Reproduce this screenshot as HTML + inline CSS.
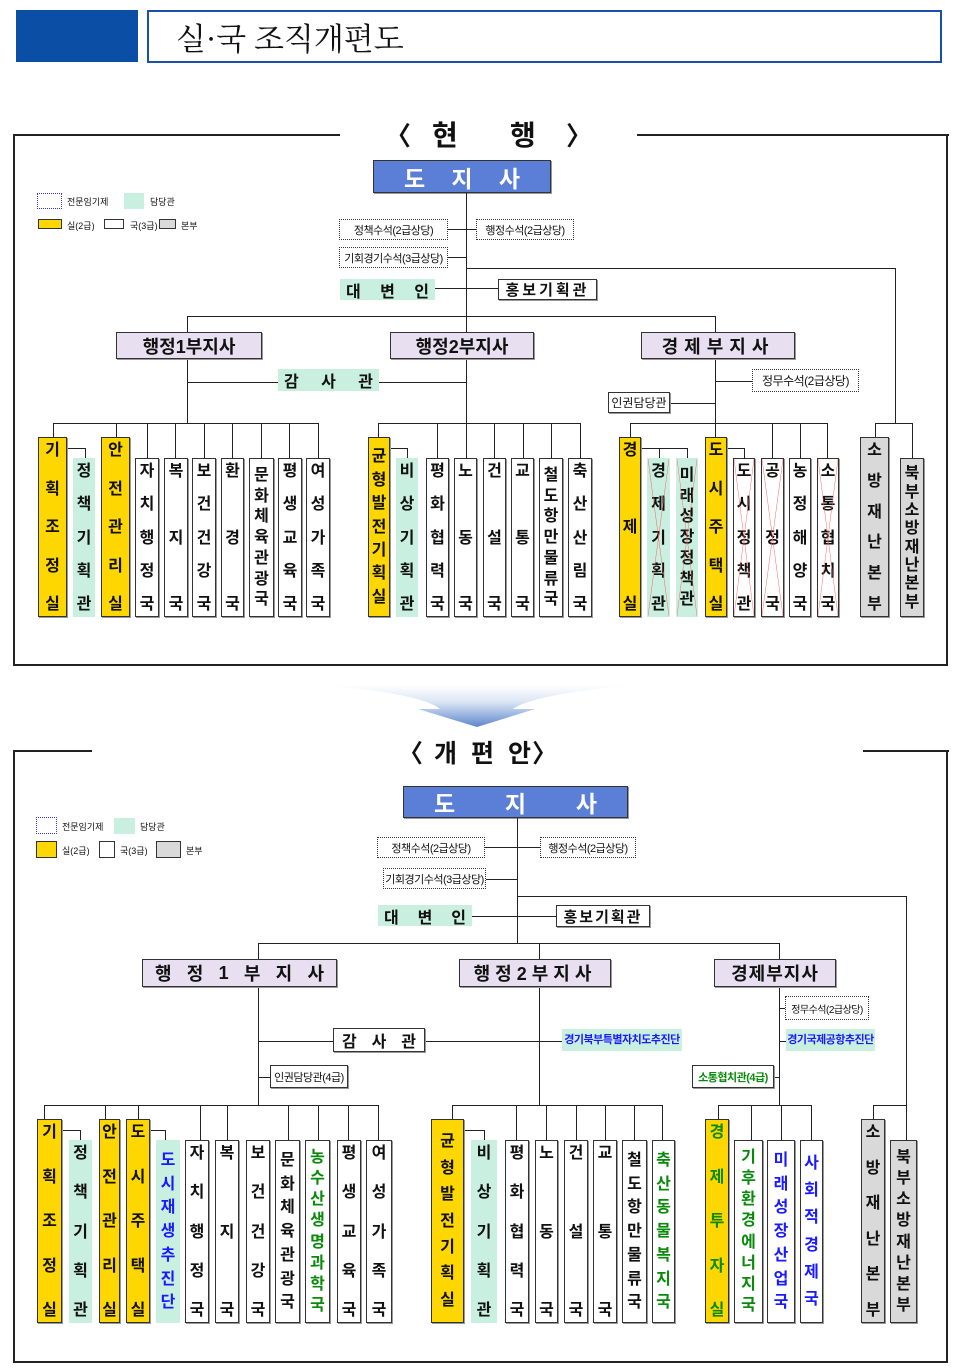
<!DOCTYPE html>
<html><head><meta charset="utf-8"><style>
*{margin:0;padding:0;box-sizing:border-box}
body{width:960px;height:1372px;background:#fff;position:relative;overflow:hidden;font-family:"Liberation Sans","Noto Sans CJK KR",sans-serif;color:#111}
div{position:absolute}
.h{height:1px;background:#222}
.vl{width:1px;background:#222}
.bx{border:1px solid #333;box-shadow:1px 1px 0 #999;display:flex;align-items:center;justify-content:center;font-weight:bold;white-space:nowrap}
.dot{border:1.5px dotted #333;display:flex;align-items:center;justify-content:center;font-size:11px;letter-spacing:-0.5px;white-space:nowrap;overflow:hidden}
.sp{display:flex;justify-content:space-between;align-items:center;white-space:nowrap;font-weight:bold}
.sp span{display:block}
.mint{background:#c9efe0}
.yel{background:#ffd700}
.gry{background:#d9d9d9}
.pur{background:#e8dff0}
.v{border:1px solid #333;box-shadow:1px 1px 0 #999;display:flex;flex-direction:column;justify-content:space-between;align-items:center;padding:4px 0 3px;font-weight:bold;font-size:16px;line-height:17px}
.v.mint{border-color:transparent;box-shadow:none}
.v i{font-style:normal;display:block}
.v.t{line-height:16px;justify-content:space-evenly}
.x{position:absolute;left:0;top:0;width:100%;height:100%}
.g{color:#0a8a0a}.b{color:#1a1aff}
</style></head><body>

<!-- header -->
<div style="left:16px;top:10px;width:122px;height:52px;background:#0a4ea6"></div>
<div style="left:147px;top:10px;width:795px;height:53px;border:2px solid #1a4fb0"></div>
<div style="left:176px;top:14px;font-size:31px;font-family:'Noto Serif CJK SC','Liberation Serif',serif;color:#111">실·국 조직개편도</div>

<!-- ===== TOP SECTION ===== -->
<div class="h" style="left:14px;top:134px;width:326px;height:2px"></div>
<div class="h" style="left:637px;top:134px;width:312px;height:2px"></div>
<div class="vl" style="left:13px;top:134px;height:532px;width:2px"></div>
<div class="vl" style="left:946px;top:134px;height:532px;width:2px"></div>
<div class="h" style="left:13px;top:664px;width:935px;height:2px"></div>
<div style="left:385px;top:116px;font-size:26px;font-weight:bold">〈</div>
<div style="left:432px;top:114px;font-size:28px;font-weight:bold">현</div>
<div style="left:510px;top:114px;font-size:28px;font-weight:bold">행</div>
<div style="left:566px;top:116px;font-size:26px;font-weight:bold">〉</div>

<!-- legend top -->
<div style="left:37px;top:193px;width:25px;height:16px;border:1.5px dotted #33f"></div>
<div style="left:67px;top:195px;font-size:9px">전문임기제</div>
<div style="left:124px;top:193px;width:20px;height:16px;background:#c9efe0"></div>
<div style="left:150px;top:195px;font-size:9px">담당관</div>
<div style="left:38px;top:219px;width:24px;height:10px;background:#ffd700;border:1px solid #333"></div>
<div style="left:67px;top:219px;font-size:9px">실(2급)</div>
<div style="left:104px;top:219px;width:20px;height:10px;border:1px solid #333"></div>
<div style="left:130px;top:219px;font-size:9px">국(3급)</div>
<div style="left:159px;top:219px;width:17px;height:10px;background:#d9d9d9;border:1px solid #333"></div>
<div style="left:181px;top:219px;font-size:9px">본부</div>

<div class="bx sp" style="left:373px;top:160px;width:178px;height:33px;background:#5b7fd6;color:#fff;font-size:23px;padding:0 30px"><span>도</span><span>지</span><span>사</span></div>
<div class="vl" style="left:466px;top:193px;height:230px"></div>
<div class="dot" style="left:339px;top:219px;width:109px;height:21px">정책수석(2급상당)</div>
<div class="h" style="left:448px;top:229px;width:28px"></div>
<div class="dot" style="left:476px;top:219px;width:98px;height:21px">행정수석(2급상당)</div>
<div class="dot" style="left:339px;top:247px;width:109px;height:21px">기회경기수석(3급상당)</div>
<div class="h" style="left:448px;top:257px;width:18px"></div>
<div class="h" style="left:466px;top:268px;width:429px"></div>
<div class="vl" style="left:895px;top:268px;height:155px"></div>
<div class="mint sp" style="left:340px;top:279px;width:95px;height:21px;font-size:16px;padding:0 6px"><span>대</span><span>변</span><span>인</span></div>
<div class="h" style="left:435px;top:288px;width:63px"></div>
<div class="bx" style="left:498px;top:279px;width:99px;height:21px;font-size:15px;letter-spacing:3px">홍보기획관</div>
<div class="h" style="left:187px;top:316px;width:528px"></div>
<div class="vl" style="left:187px;top:316px;height:107px"></div>
<div class="vl" style="left:715px;top:316px;height:107px"></div>
<div class="bx pur" style="left:116px;top:332px;width:146px;height:27px;font-size:18px">행정1부지사</div>
<div class="bx pur" style="left:390px;top:332px;width:144px;height:27px;font-size:18px">행정2부지사</div>
<div class="bx pur" style="left:641px;top:332px;width:154px;height:27px;font-size:18px;letter-spacing:6px">경제부지사</div>
<div class="h" style="left:187px;top:382px;width:279px"></div>
<div class="mint sp" style="left:278px;top:369px;width:101px;height:22px;font-size:16px;padding:0 6px"><span>감</span><span>사</span><span>관</span></div>
<div class="h" style="left:715px;top:381px;width:37px"></div>
<div class="dot" style="left:752px;top:369px;width:107px;height:23px;font-size:12px">정무수석(2급상당)</div>
<div class="h" style="left:670px;top:403px;width:45px"></div>
<div class="bx" style="left:608px;top:392px;width:62px;height:21px;font-size:12px;font-weight:normal">인권담당관</div>

<!-- top row lines 1 -->
<div class="h" style="left:53px;top:423px;width:266px"></div>
<div class="vl" style="left:53px;top:423px;height:14px"></div>
<div class="vl" style="left:116px;top:423px;height:14px"></div>
<div class="vl" style="left:147px;top:423px;height:35px"></div>
<div class="vl" style="left:175px;top:423px;height:35px"></div>
<div class="vl" style="left:204px;top:423px;height:35px"></div>
<div class="vl" style="left:232px;top:423px;height:35px"></div>
<div class="vl" style="left:261px;top:423px;height:35px"></div>
<div class="vl" style="left:289px;top:423px;height:35px"></div>
<div class="vl" style="left:318px;top:423px;height:35px"></div>
<div class="h" style="left:67px;top:448px;width:18px"></div>
<div class="vl" style="left:85px;top:448px;height:10px"></div>

<div class="v yel" style="left:38px;top:437px;width:29px;height:180px"><i>기</i><i>획</i><i>조</i><i>정</i><i>실</i></div>
<div class="v mint" style="left:73px;top:458px;width:22px;height:159px"><i>정</i><i>책</i><i>기</i><i>획</i><i>관</i></div>
<div class="v yel" style="left:101px;top:437px;width:29px;height:180px"><i>안</i><i>전</i><i>관</i><i>리</i><i>실</i></div>
<div class="v" style="left:135px;top:458px;width:24px;height:159px"><i>자</i><i>치</i><i>행</i><i>정</i><i>국</i></div>
<div class="v" style="left:164px;top:458px;width:24px;height:159px"><i>복</i><i>&nbsp;</i><i>지</i><i>&nbsp;</i><i>국</i></div>
<div class="v" style="left:192px;top:458px;width:24px;height:159px"><i>보</i><i>건</i><i>건</i><i>강</i><i>국</i></div>
<div class="v" style="left:221px;top:458px;width:23px;height:159px"><i>환</i><i>&nbsp;</i><i>경</i><i>&nbsp;</i><i>국</i></div>
<div class="v t" style="left:249px;top:458px;width:25px;height:159px"><i>문</i><i>화</i><i>체</i><i>육</i><i>관</i><i>광</i><i>국</i></div>
<div class="v" style="left:278px;top:458px;width:24px;height:159px"><i>평</i><i>생</i><i>교</i><i>육</i><i>국</i></div>
<div class="v" style="left:306px;top:458px;width:24px;height:159px"><i>여</i><i>성</i><i>가</i><i>족</i><i>국</i></div>

<!-- top row 2 -->
<div class="h" style="left:378px;top:423px;width:203px"></div>
<div class="vl" style="left:378px;top:423px;height:14px"></div>
<div class="vl" style="left:437px;top:423px;height:35px"></div>
<div class="vl" style="left:466px;top:423px;height:35px"></div>
<div class="vl" style="left:494px;top:423px;height:35px"></div>
<div class="vl" style="left:523px;top:423px;height:35px"></div>
<div class="vl" style="left:551px;top:423px;height:35px"></div>
<div class="vl" style="left:580px;top:423px;height:35px"></div>
<div class="h" style="left:390px;top:448px;width:17px"></div>
<div class="vl" style="left:407px;top:448px;height:10px"></div>
<div class="v yel t" style="left:368px;top:437px;width:22px;height:180px"><i>균</i><i>형</i><i>발</i><i>전</i><i>기</i><i>획</i><i>실</i></div>
<div class="v mint" style="left:396px;top:458px;width:22px;height:159px"><i>비</i><i>상</i><i>기</i><i>획</i><i>관</i></div>
<div class="v" style="left:426px;top:458px;width:23px;height:159px"><i>평</i><i>화</i><i>협</i><i>력</i><i>국</i></div>
<div class="v" style="left:454px;top:458px;width:23px;height:159px"><i>노</i><i>&nbsp;</i><i>동</i><i>&nbsp;</i><i>국</i></div>
<div class="v" style="left:483px;top:458px;width:23px;height:159px"><i>건</i><i>&nbsp;</i><i>설</i><i>&nbsp;</i><i>국</i></div>
<div class="v" style="left:511px;top:458px;width:23px;height:159px"><i>교</i><i>&nbsp;</i><i>통</i><i>&nbsp;</i><i>국</i></div>
<div class="v t" style="left:539px;top:458px;width:24px;height:159px"><i>철</i><i>도</i><i>항</i><i>만</i><i>물</i><i>류</i><i>국</i></div>
<div class="v" style="left:568px;top:458px;width:24px;height:159px"><i>축</i><i>산</i><i>산</i><i>림</i><i>국</i></div>

<!-- top row 3 -->
<div class="h" style="left:630px;top:423px;width:198px"></div>
<div class="vl" style="left:630px;top:423px;height:14px"></div>
<div class="vl" style="left:772px;top:423px;height:35px"></div>
<div class="vl" style="left:800px;top:423px;height:35px"></div>
<div class="vl" style="left:827px;top:423px;height:35px"></div>
<div class="vl" style="left:715px;top:423px;height:14px"></div>
<div class="h" style="left:641px;top:448px;width:46px"></div>
<div class="vl" style="left:659px;top:448px;height:10px"></div>
<div class="vl" style="left:687px;top:448px;height:10px"></div>
<div class="h" style="left:727px;top:448px;width:17px"></div>
<div class="vl" style="left:744px;top:448px;height:10px"></div>
<div class="v yel" style="left:619px;top:437px;width:22px;height:180px"><i>경</i><i>&nbsp;</i><i>제</i><i>&nbsp;</i><i>실</i></div>
<div class="v mint" style="left:647px;top:458px;width:23px;height:159px"><i>경</i><i>제</i><i>기</i><i>획</i><i>관</i><svg class="x" viewBox="0 0 10 10" preserveAspectRatio="none"><path d="M0 0L10 10M10 0L0 10" stroke="#f55" stroke-width="0.15"/></svg></div>
<div class="v mint t" style="left:676px;top:458px;width:22px;height:159px"><i>미</i><i>래</i><i>성</i><i>장</i><i>정</i><i>책</i><i>관</i><svg class="x" viewBox="0 0 10 10" preserveAspectRatio="none"><path d="M0 0L10 10M10 0L0 10" stroke="#f55" stroke-width="0.15"/></svg></div>
<div class="v yel" style="left:705px;top:437px;width:22px;height:180px"><i>도</i><i>시</i><i>주</i><i>택</i><i>실</i></div>
<div class="v" style="left:733px;top:458px;width:22px;height:159px"><i>도</i><i>시</i><i>정</i><i>책</i><i>관</i><svg class="x" viewBox="0 0 10 10" preserveAspectRatio="none"><path d="M0 0L10 10M10 0L0 10" stroke="#f55" stroke-width="0.15"/></svg></div>
<div class="v" style="left:761px;top:458px;width:23px;height:159px"><i>공</i><i>&nbsp;</i><i>정</i><i>&nbsp;</i><i>국</i><svg class="x" viewBox="0 0 10 10" preserveAspectRatio="none"><path d="M0 0L10 10M10 0L0 10" stroke="#f55" stroke-width="0.15"/></svg></div>
<div class="v" style="left:789px;top:458px;width:22px;height:159px"><i>농</i><i>정</i><i>해</i><i>양</i><i>국</i></div>
<div class="v" style="left:817px;top:458px;width:22px;height:159px"><i>소</i><i>통</i><i>협</i><i>치</i><i>국</i><svg class="x" viewBox="0 0 10 10" preserveAspectRatio="none"><path d="M0 0L10 10M10 0L0 10" stroke="#f55" stroke-width="0.15"/></svg></div>

<!-- fire top -->
<div class="h" style="left:875px;top:423px;width:38px"></div>
<div class="vl" style="left:875px;top:423px;height:14px"></div>
<div class="vl" style="left:912px;top:423px;height:35px"></div>
<div class="v gry" style="left:860px;top:437px;width:29px;height:180px"><i>소</i><i>방</i><i>재</i><i>난</i><i>본</i><i>부</i></div>
<div class="v gry t" style="left:900px;top:458px;width:24px;height:159px;line-height:15px"><i>북</i><i>부</i><i>소</i><i>방</i><i>재</i><i>난</i><i>본</i><i>부</i></div>

<!-- arrow -->
<svg style="position:absolute;left:300px;top:675px" width="360" height="60" viewBox="0 0 360 60">
<defs><linearGradient id="ag" x1="0" y1="0" x2="0" y2="1"><stop offset="0" stop-color="#fff"/><stop offset="0.4" stop-color="#dce6f5"/><stop offset="1" stop-color="#5c86cc"/></linearGradient></defs>
<path d="M17 10 C90 15 130 25 140 34 L118 34 L177 52 L235 34 L213 34 C225 25 270 15 340 10 Z" fill="url(#ag)"/>
</svg>

<!-- ===== BOTTOM SECTION ===== -->
<div class="h" style="left:14px;top:750px;width:78px;height:2px"></div>
<div class="h" style="left:863px;top:750px;width:86px;height:2px"></div>
<div class="vl" style="left:13px;top:750px;height:613px;width:2px"></div>
<div class="vl" style="left:946px;top:750px;height:613px;width:2px"></div>
<div class="h" style="left:13px;top:1361px;width:935px;height:2px"></div>
<div style="left:398px;top:734px;font-size:25px;font-weight:bold">〈</div>
<div style="left:434px;top:734px;font-size:25px;font-weight:bold;letter-spacing:14px">개편안</div>
<div style="left:532px;top:734px;font-size:25px;font-weight:bold">〉</div>

<!-- legend bottom -->
<div style="left:36px;top:817px;width:21px;height:17px;border:1.5px dotted #33f"></div>
<div style="left:62px;top:820px;font-size:9px">전문임기제</div>
<div style="left:114px;top:818px;width:21px;height:16px;background:#c9efe0"></div>
<div style="left:140px;top:820px;font-size:9px">담당관</div>
<div style="left:36px;top:841px;width:21px;height:17px;background:#ffd700;border:1px solid #333"></div>
<div style="left:62px;top:844px;font-size:9px">실(2급)</div>
<div style="left:99px;top:841px;width:16px;height:17px;border:1px solid #333"></div>
<div style="left:120px;top:844px;font-size:9px">국(3급)</div>
<div style="left:156px;top:841px;width:25px;height:17px;background:#d9d9d9;border:1px solid #333"></div>
<div style="left:186px;top:844px;font-size:9px">본부</div>

<div class="bx sp" style="left:403px;top:786px;width:225px;height:32px;background:#5b7fd6;color:#fff;font-size:23px;padding:0 30px"><span>도</span><span>지</span><span>사</span></div>
<div class="vl" style="left:517px;top:818px;height:125px"></div>
<div class="dot" style="left:377px;top:837px;width:108px;height:21px">정책수석(2급상당)</div>
<div class="h" style="left:485px;top:847px;width:55px"></div>
<div class="dot" style="left:540px;top:837px;width:96px;height:21px">행정수석(2급상당)</div>
<div class="dot" style="left:383px;top:868px;width:103px;height:21px">기회경기수석(3급상당)</div>
<div class="h" style="left:486px;top:879px;width:31px"></div>
<div class="h" style="left:517px;top:896px;width:389px"></div>
<div class="vl" style="left:906px;top:896px;height:209px"></div>
<div class="mint sp" style="left:378px;top:905px;width:94px;height:21px;font-size:16px;padding:0 6px"><span>대</span><span>변</span><span>인</span></div>
<div class="h" style="left:472px;top:916px;width:84px"></div>
<div class="bx" style="left:556px;top:905px;width:94px;height:22px;font-size:15px;letter-spacing:2px">홍보기획관</div>
<div class="h" style="left:258px;top:943px;width:521px"></div>
<div class="vl" style="left:258px;top:943px;height:162px"></div>
<div class="vl" style="left:539px;top:943px;height:162px"></div>
<div class="vl" style="left:779px;top:943px;height:162px"></div>
<div class="bx pur sp" style="left:142px;top:959px;width:195px;height:28px;font-size:18px;padding:0 12px"><span>행</span><span>정</span><span>1</span><span>부</span><span>지</span><span>사</span></div>
<div class="bx pur" style="left:459px;top:959px;width:152px;height:28px;font-size:18px;letter-spacing:5px">행정2부지사</div>
<div class="bx pur" style="left:714px;top:959px;width:122px;height:28px;font-size:18px;letter-spacing:1px">경제부지사</div>
<div class="h" style="left:258px;top:1041px;width:304px"></div>
<div class="bx sp" style="left:333px;top:1028px;width:92px;height:24px;background:#fff;font-size:16px;padding:0 8px"><span>감</span><span>사</span><span>관</span></div>
<div class="mint b" style="left:562px;top:1029px;width:120px;height:22px;font-size:11px;letter-spacing:-0.5px;font-weight:bold;text-align:center;line-height:22px;white-space:nowrap;overflow:hidden">경기북부특별자치도추진단</div>
<div class="h" style="left:258px;top:1077px;width:12px"></div>
<div class="bx" style="left:270px;top:1065px;width:78px;height:23px;font-size:11px;font-weight:normal;letter-spacing:-0.5px">인권담당관(4급)</div>
<div class="h" style="left:779px;top:1008px;width:6px"></div>
<div class="dot" style="left:785px;top:996px;width:84px;height:24px;font-size:10px">정무수석(2급상당)</div>
<div class="h" style="left:779px;top:1041px;width:7px"></div>
<div class="mint b" style="left:786px;top:1029px;width:89px;height:22px;font-size:11px;letter-spacing:-0.5px;font-weight:bold;text-align:center;line-height:22px;white-space:nowrap;overflow:hidden">경기국제공항추진단</div>
<div class="h" style="left:774px;top:1077px;width:5px"></div>
<div class="bx g" style="left:692px;top:1065px;width:82px;height:23px;font-size:11px;letter-spacing:-0.5px">소통협치관(4급)</div>

<!-- bottom row 1 -->
<div class="h" style="left:44px;top:1105px;width:335px"></div>
<div class="vl" style="left:44px;top:1105px;height:14px"></div>
<div class="vl" style="left:105px;top:1105px;height:14px"></div>
<div class="vl" style="left:138px;top:1105px;height:14px"></div>
<div class="vl" style="left:200px;top:1105px;height:35px"></div>
<div class="vl" style="left:227px;top:1105px;height:35px"></div>
<div class="vl" style="left:288px;top:1105px;height:35px"></div>
<div class="vl" style="left:318px;top:1105px;height:35px"></div>
<div class="vl" style="left:348px;top:1105px;height:35px"></div>
<div class="vl" style="left:378px;top:1105px;height:35px"></div>
<div class="h" style="left:62px;top:1130px;width:18px"></div>
<div class="vl" style="left:80px;top:1130px;height:10px"></div>
<div class="h" style="left:150px;top:1130px;width:15px"></div>
<div class="vl" style="left:165px;top:1130px;height:10px"></div>
<div class="v yel" style="left:37px;top:1119px;width:25px;height:204px"><i>기</i><i>획</i><i>조</i><i>정</i><i>실</i></div>
<div class="v mint" style="left:69px;top:1140px;width:23px;height:183px"><i>정</i><i>책</i><i>기</i><i>획</i><i>관</i></div>
<div class="v yel" style="left:99px;top:1119px;width:21px;height:204px"><i>안</i><i>전</i><i>관</i><i>리</i><i>실</i></div>
<div class="v yel" style="left:126px;top:1119px;width:24px;height:204px"><i>도</i><i>시</i><i>주</i><i>택</i><i>실</i></div>
<div class="v mint b t" style="left:156px;top:1140px;width:24px;height:183px"><i>도</i><i>시</i><i>재</i><i>생</i><i>추</i><i>진</i><i>단</i></div>
<div class="v" style="left:185px;top:1140px;width:24px;height:183px"><i>자</i><i>치</i><i>행</i><i>정</i><i>국</i></div>
<div class="v" style="left:215px;top:1140px;width:24px;height:183px"><i>복</i><i>&nbsp;</i><i>지</i><i>&nbsp;</i><i>국</i></div>
<div class="v" style="left:246px;top:1140px;width:24px;height:183px"><i>보</i><i>건</i><i>건</i><i>강</i><i>국</i></div>
<div class="v t" style="left:275px;top:1140px;width:25px;height:183px"><i>문</i><i>화</i><i>체</i><i>육</i><i>관</i><i>광</i><i>국</i></div>
<div class="v g t" style="left:305px;top:1140px;width:25px;height:183px"><i>농</i><i>수</i><i>산</i><i>생</i><i>명</i><i>과</i><i>학</i><i>국</i></div>
<div class="v" style="left:337px;top:1140px;width:24px;height:183px"><i>평</i><i>생</i><i>교</i><i>육</i><i>국</i></div>
<div class="v" style="left:366px;top:1140px;width:26px;height:183px"><i>여</i><i>성</i><i>가</i><i>족</i><i>국</i></div>

<!-- bottom row 2 -->
<div class="h" style="left:452px;top:1105px;width:211px"></div>
<div class="vl" style="left:452px;top:1105px;height:14px"></div>
<div class="vl" style="left:516px;top:1105px;height:35px"></div>
<div class="vl" style="left:546px;top:1105px;height:35px"></div>
<div class="vl" style="left:576px;top:1105px;height:35px"></div>
<div class="vl" style="left:605px;top:1105px;height:35px"></div>
<div class="vl" style="left:634px;top:1105px;height:35px"></div>
<div class="vl" style="left:662px;top:1105px;height:35px"></div>
<div class="h" style="left:464px;top:1130px;width:20px"></div>
<div class="vl" style="left:484px;top:1130px;height:10px"></div>
<div class="v yel t" style="left:431px;top:1119px;width:33px;height:204px"><i>균</i><i>형</i><i>발</i><i>전</i><i>기</i><i>획</i><i>실</i></div>
<div class="v mint" style="left:471px;top:1140px;width:26px;height:183px"><i>비</i><i>상</i><i>기</i><i>획</i><i>관</i></div>
<div class="v" style="left:505px;top:1140px;width:24px;height:183px"><i>평</i><i>화</i><i>협</i><i>력</i><i>국</i></div>
<div class="v" style="left:535px;top:1140px;width:23px;height:183px"><i>노</i><i>&nbsp;</i><i>동</i><i>&nbsp;</i><i>국</i></div>
<div class="v" style="left:564px;top:1140px;width:24px;height:183px"><i>건</i><i>&nbsp;</i><i>설</i><i>&nbsp;</i><i>국</i></div>
<div class="v" style="left:593px;top:1140px;width:24px;height:183px"><i>교</i><i>&nbsp;</i><i>통</i><i>&nbsp;</i><i>국</i></div>
<div class="v t" style="left:622px;top:1140px;width:25px;height:183px"><i>철</i><i>도</i><i>항</i><i>만</i><i>물</i><i>류</i><i>국</i></div>
<div class="v g t" style="left:652px;top:1140px;width:23px;height:183px"><i>축</i><i>산</i><i>동</i><i>물</i><i>복</i><i>지</i><i>국</i></div>

<!-- bottom row 3 -->
<div class="h" style="left:718px;top:1105px;width:94px"></div>
<div class="vl" style="left:718px;top:1105px;height:14px"></div>
<div class="vl" style="left:751px;top:1105px;height:35px"></div>
<div class="vl" style="left:781px;top:1105px;height:35px"></div>
<div class="vl" style="left:811px;top:1105px;height:35px"></div>
<div class="v yel g" style="left:705px;top:1119px;width:24px;height:204px"><i>경</i><i>제</i><i>투</i><i>자</i><i>실</i></div>
<div class="v g t" style="left:734px;top:1140px;width:29px;height:183px"><i>기</i><i>후</i><i>환</i><i>경</i><i>에</i><i>너</i><i>지</i><i>국</i></div>
<div class="v b t" style="left:767px;top:1140px;width:28px;height:183px"><i>미</i><i>래</i><i>성</i><i>장</i><i>산</i><i>업</i><i>국</i></div>
<div class="v b t" style="left:800px;top:1140px;width:23px;height:183px"><i>사</i><i>회</i><i>적</i><i>경</i><i>제</i><i>국</i></div>

<!-- fire bottom -->
<div class="h" style="left:873px;top:1105px;width:34px"></div>
<div class="vl" style="left:873px;top:1105px;height:14px"></div>
<div class="vl" style="left:906px;top:1105px;height:35px"></div>
<div class="v gry" style="left:861px;top:1119px;width:24px;height:204px"><i>소</i><i>방</i><i>재</i><i>난</i><i>본</i><i>부</i></div>
<div class="v gry t" style="left:890px;top:1140px;width:27px;height:183px"><i>북</i><i>부</i><i>소</i><i>방</i><i>재</i><i>난</i><i>본</i><i>부</i></div>

</body></html>
